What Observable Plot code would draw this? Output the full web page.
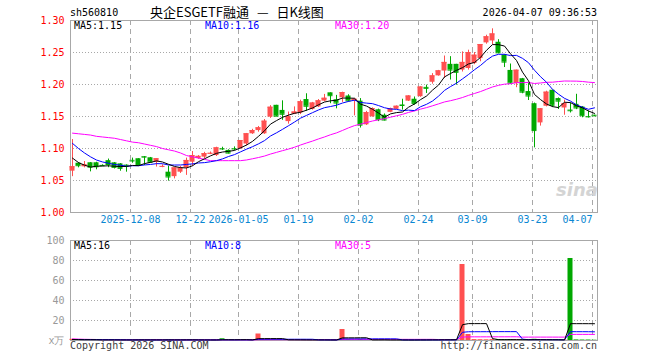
<!DOCTYPE html>
<html><head><meta charset="utf-8">
<script src="https://cdn.jsdelivr.net/npm/d3@7"></script>
<script src="https://cdn.jsdelivr.net/npm/@observablehq/plot@0.6"></script>
<style>
html,body{margin:0;padding:0;background:#fff;}
#wrap{position:relative;width:660px;height:360px;overflow:hidden;background:#fff;}
#wrap svg{position:absolute;left:0;display:block;}
.t{position:absolute;font:10px/12px "DejaVu Sans Mono",monospace;white-space:pre;}
</style></head><body><div id="wrap"></div>
<script>
// ---------- data ----------
const dates = [
"2025-11-24","2025-11-25","2025-11-26","2025-11-27","2025-11-28",
"2025-12-01","2025-12-02","2025-12-03","2025-12-04","2025-12-05",
"2025-12-08","2025-12-09","2025-12-10","2025-12-11","2025-12-12",
"2025-12-15","2025-12-16","2025-12-17","2025-12-18","2025-12-19",
"2025-12-22","2025-12-23","2025-12-24","2025-12-25","2025-12-26",
"2025-12-29","2025-12-30","2025-12-31",
"2026-01-05","2026-01-06","2026-01-07","2026-01-08","2026-01-09",
"2026-01-12","2026-01-13","2026-01-14","2026-01-15","2026-01-16",
"2026-01-19","2026-01-20","2026-01-21","2026-01-22","2026-01-23",
"2026-01-26","2026-01-27","2026-01-28","2026-01-29","2026-01-30",
"2026-02-02","2026-02-03","2026-02-04","2026-02-05","2026-02-06",
"2026-02-09","2026-02-10","2026-02-11","2026-02-12","2026-02-13",
"2026-02-24","2026-02-25","2026-02-26","2026-02-27",
"2026-03-02","2026-03-03","2026-03-04","2026-03-05","2026-03-06",
"2026-03-09","2026-03-10","2026-03-11","2026-03-12","2026-03-13",
"2026-03-16","2026-03-17","2026-03-18","2026-03-19","2026-03-20",
"2026-03-23","2026-03-24","2026-03-25","2026-03-26","2026-03-27",
"2026-03-30","2026-03-31","2026-04-01","2026-04-02","2026-04-03",
"2026-04-07"];

const open = [
1.0646,1.077,1.0714,1.0777,1.0777,1.0736,1.081,1.0776,1.076,1.074,
1.0815,1.084,1.0875,1.0855,1.0786,1.0715,1.063,1.056,1.063,1.0697,
1.0786,1.0843,1.0865,1.0915,1.089,1.0998,1.097,1.0997,1.0995,1.107,
1.123,1.128,1.123,1.149,1.1675,1.1595,1.142,1.1535,1.1555,1.1765,
1.161,1.165,1.174,1.187,1.176,1.1792,1.182,1.1745,1.174,1.137,
1.1495,1.1605,1.152,1.1565,1.1612,1.168,1.174,1.177,1.181,1.1955,
1.2035,1.2135,1.221,1.2315,1.2315,1.2225,1.225,1.2328,1.2405,1.265,
1.268,1.266,1.246,1.222,1.2014,1.209,1.189,1.170,1.140,1.166,
1.191,1.178,1.1633,1.160,1.169,1.1648,1.150,1.152];

const high = [
1.114,1.078,1.0797,1.078,1.0785,1.0745,1.0835,1.078,1.0765,1.0745,
1.085,1.084,1.0875,1.086,1.084,1.0745,1.0725,1.070,1.072,1.085,
1.0953,1.089,1.094,1.0945,1.102,1.102,1.098,1.1025,1.1125,1.1235,
1.130,1.1344,1.1453,1.167,1.1675,1.1745,1.157,1.165,1.1755,1.1855,
1.172,1.1765,1.1845,1.187,1.183,1.188,1.184,1.1775,1.178,1.158,
1.1635,1.1615,1.154,1.163,1.1665,1.177,1.1825,1.1805,1.1965,1.199,
1.217,1.222,1.2445,1.2435,1.2315,1.251,1.2536,1.25,1.2625,1.277,
1.287,1.270,1.2465,1.232,1.2225,1.2095,1.2015,1.171,1.1625,1.1895,
1.191,1.179,1.1755,1.171,1.1847,1.1655,1.1586,1.152];

const low = [
1.056,1.0698,1.0698,1.0635,1.0667,1.072,1.070,1.068,1.0645,1.063,
1.077,1.072,1.0734,1.0775,1.071,1.070,1.049,1.0525,1.061,1.058,
1.072,1.083,1.084,1.0905,1.0875,1.097,1.0915,1.0965,1.099,1.104,
1.122,1.1255,1.122,1.147,1.150,1.144,1.138,1.153,1.153,1.158,
1.160,1.164,1.173,1.170,1.162,1.172,1.1725,1.151,1.132,1.136,
1.149,1.142,1.143,1.156,1.161,1.160,1.1735,1.1677,1.180,1.186,
1.2005,1.213,1.2094,1.207,1.199,1.2195,1.2225,1.231,1.2355,1.263,
1.262,1.248,1.2265,1.201,1.195,1.1855,1.175,1.101,1.135,1.165,
1.164,1.161,1.152,1.1555,1.1607,1.148,1.1476,1.150];

const close = [
1.0715,1.0731,1.0745,1.0708,1.0714,1.0732,1.075,1.0705,1.069,1.0725,
1.0805,1.0735,1.0865,1.0786,1.084,1.072,1.0555,1.0697,1.0695,1.0813,
1.089,1.0877,1.092,1.0925,1.101,1.0993,1.0928,1.0993,1.1125,1.123,
1.128,1.1323,1.1427,1.1645,1.1505,1.1535,1.1495,1.157,1.173,1.166,
1.171,1.1745,1.1785,1.1825,1.171,1.1875,1.1745,1.177,1.1365,1.156,
1.1625,1.145,1.1445,1.1625,1.166,1.1672,1.182,1.1705,1.196,1.194,
1.2135,1.2213,1.2345,1.2225,1.219,1.2345,1.25,1.2458,1.2625,1.2745,
1.279,1.2495,1.235,1.202,1.2223,1.188,1.182,1.128,1.162,1.188,
1.1675,1.174,1.170,1.159,1.1633,1.1512,1.1495,1.151];

// volume, in 万
const volume = [
1.2,0.6,0.5,0.8,0.6,0.4,0.7,0.5,0.6,0.5,
0.5,0.8,0.6,0.5,0.6,0.4,0.9,0.6,0.5,0.7,
0.6,0.5,0.5,0.4,0.6,1.7,0.5,0.4,0.7,0.8,
0.6,6.5,0.7,0.8,0.9,0.6,0.5,0.5,0.7,0.6,
0.5,0.6,0.5,0.5,0.6,11,0.7,0.5,0.9,0.6,
0.5,0.7,0.6,0.4,0.5,0.4,0.6,0.5,0.8,0.5,
0.7,0.6,0.9,0.8,0.7,76,6,0.9,0.8,0.7,
0.9,1.0,0.8,0.9,0.7,0.6,0.8,1.2,0.7,0.6,
0.5,0.6,0.5,82,0.6,0.5,0.5,0.3];

// moving-average values for the first days (window not yet full)
const ma5Head  = [1.085,1.078,1.074,1.071];
const ma10Head = [1.108,1.100,1.093,1.087,1.082,1.079,1.077,1.075,1.074];
const ma30Head = [1.124,1.123,1.122,1.121,1.119,1.118,1.117,1.116,1.114,1.112,
                  1.110,1.109,1.107,1.105,1.103,1.100,1.098,1.096,1.093,1.089,
                  1.087,1.085,1.083,1.081,1.081,1.081,1.081,1.081,1.081];
const vma5Head  = [1.0,0.9,0.8,0.8];
const vma10Head = [1.0,1.0,0.9,0.9,0.9,0.8,0.8,0.8,0.7];
const vma30Head = [1.6,1.4,1.2,1.1,1.0,0.9,0.9,0.8,0.8,0.8,
                   0.8,0.8,0.8,0.8,0.8,0.7,0.7,0.7,0.7,0.7,
                   0.7,0.7,0.7,0.7,0.7,0.7,0.7,0.7,0.7];

const priceTicks = [1.00,1.05,1.10,1.15,1.20,1.25,1.30];
const volTicks = [0,20,40,60,80,100];
const tickDates  = ["2025-12-08","2025-12-22","2026-01-05","2026-01-19","2026-02-02","2026-02-24","2026-03-09","2026-03-23","2026-04-07"];
const tickLabels = ["2025-12-08","12-22","2026-01-05","01-19","02-02","02-24","03-09","03-23","04-07"];

const title = "央企ESGETF融通 — 日K线图";
const code = "sh560810";
const stamp = "2026-04-07 09:36:53";
const priceLegend = ["MA5:1.15","MA10:1.16","MA30:1.20"];
const volLegend = ["MA5:16","MA10:8","MA30:5"];

// ---------- build ----------
const RED="#ff5050", GREEN="#00a800", GRID="#a8a8a8", BLUE="#0000ff", MAG="#ff00ff", DATE="#0a87d2";
const movAvg = (vals,k,head) => vals.map((v,i)=> i<k-1 ? head[i] : d3.mean(vals.slice(i-k+1,i+1)));
const ma5=movAvg(close,5,ma5Head), ma10=movAvg(close,10,ma10Head), ma30=movAvg(close,30,ma30Head);
const vma5=movAvg(volume,5,vma5Head), vma10=movAvg(volume,10,vma10Head), vma30=movAvg(volume,30,vma30Head);
const rows = dates.map((d,i)=>({date:d,open:open[i],high:high[i],low:low[i],close:close[i],vol:volume[i],
  up: close[i]>=open[i], ma5:ma5[i], ma10:ma10[i], ma30:ma30[i], vma5:vma5[i], vma10:vma10[i], vma30:vma30[i]}));
const ups = rows.filter(d=>d.up), downs = rows.filter(d=>!d.up);
const ticksRows = tickDates.map((d,i)=>({date:d,label:tickLabels[i]}));
const xOpt = {type:"band",domain:dates,padding:0,align:0.5,axis:null};
const styleOpt = {background:"transparent",fontFamily:"DejaVu Sans Mono, monospace",fontSize:"10px",overflow:"visible"};

const main = Plot.plot({
  width:660,height:230,marginLeft:69,marginRight:63,marginTop:20,marginBottom:18,
  x:xOpt, y:{domain:[1.0,1.3],axis:null}, style:styleOpt,
  marks:[
    Plot.ruleY(priceTicks.slice(1,-1),{stroke:GRID,strokeDasharray:"1,2",insetLeft:1}),
    Plot.ruleX(tickDates,{x:d=>d,dx:-2,stroke:GRID,strokeDasharray:"5,4"}),
    Plot.frame({stroke:GRID,insetLeft:1}),
    Plot.axisY({ticks:priceTicks,tickSize:0,tickPadding:5,tickFormat:d=>d.toFixed(2),color:"#ff0000"}),
    Plot.text(ticksRows.slice(0,-1),{x:"date",text:"label",frameAnchor:"bottom",dy:10,dx:-2,fill:DATE}),
    Plot.text(ticksRows.slice(-1),{x:"date",text:"label",frameAnchor:"bottom",dy:10,dx:-2,textAnchor:"end",fill:DATE}),
    Plot.ruleX(ups,{x:"date",y1:"low",y2:"high",stroke:RED}),
    Plot.ruleX(downs,{x:"date",y1:"low",y2:"high",stroke:GREEN}),
    Plot.barY(ups,{x:"date",y1:"open",y2:"close",fill:RED,insetLeft:0.5,insetRight:0.5}),
    Plot.barY(downs,{x:"date",y1:"open",y2:"close",fill:GREEN,insetLeft:0.5,insetRight:0.5}),
    Plot.tickY(ups,{x:"date",y:"close",stroke:RED,insetLeft:0.5,insetRight:0.5}),
    Plot.tickY(downs,{x:"date",y:"close",stroke:GREEN,insetLeft:0.5,insetRight:0.5}),
    Plot.lineY(rows,{x:"date",y:"ma30",stroke:MAG,strokeWidth:1}),
    Plot.lineY(rows,{x:"date",y:"ma10",stroke:BLUE,strokeWidth:1}),
    Plot.lineY(rows,{x:"date",y:"ma5",stroke:"#000",strokeWidth:1})
  ]
});
main.style.top="0px";

const vol = Plot.plot({
  width:660,height:130,marginLeft:69,marginRight:63,marginTop:10,marginBottom:20,
  x:xOpt, y:{domain:[0,100],axis:null}, style:styleOpt,
  marks:[
    Plot.ruleY(volTicks.slice(1,-1),{stroke:GRID,strokeDasharray:"1,2",insetLeft:1}),
    Plot.ruleX(tickDates,{x:d=>d,dx:-2,stroke:GRID,strokeDasharray:"5,4"}),
    Plot.frame({stroke:GRID,insetLeft:1}),
    Plot.axisY({ticks:volTicks,tickSize:0,tickPadding:5,tickFormat:d=>d===0?"x万":String(d),color:"#999"}),
    Plot.barY(ups,{x:"date",y:"vol",fill:RED,insetLeft:0.5,insetRight:0.5}),
    Plot.barY(downs,{x:"date",y:"vol",fill:GREEN,insetLeft:0.5,insetRight:0.5}),
    Plot.lineY(rows,{x:"date",y:"vma30",stroke:MAG,strokeWidth:1}),
    Plot.lineY(rows,{x:"date",y:"vma10",stroke:BLUE,strokeWidth:1}),
    Plot.lineY(rows,{x:"date",y:"vma5",stroke:"#000",strokeWidth:1})
  ]
});
vol.style.top="230px";

const wrap = document.getElementById("wrap");
wrap.appendChild(main); wrap.appendChild(vol);
function label(txt, css){const d=document.createElement("div");d.className="t";d.textContent=txt;Object.assign(d.style,css);wrap.appendChild(d);return d;}
label(code,{left:"70px",top:"7px",color:"#000"});
label(title,{left:"150px",top:"4px",font:'13px/16px "Noto Sans CJK SC",sans-serif',color:"#000",wordSpacing:"5px"});
label(stamp,{right:"63px",top:"7px",color:"#000"});
const legX=["74px","205px","335px"], legC=["#000",BLUE,MAG];
priceLegend.forEach((t,i)=>label(t,{left:legX[i],top:"20px",color:legC[i]}));
volLegend.forEach((t,i)=>label(t,{left:legX[i],top:"240px",color:legC[i]}));
label("Copyright 2026 SINA.COM",{left:"70px",top:"340px",color:"#404040"});
label("http://finance.sina.com.cn",{right:"63px",top:"340px",color:"#404040"});
label("sina",{left:"556px",top:"180px",font:'italic bold 18px/20px "DejaVu Sans",sans-serif',color:"#d4d4d4"});
</script></body></html>
